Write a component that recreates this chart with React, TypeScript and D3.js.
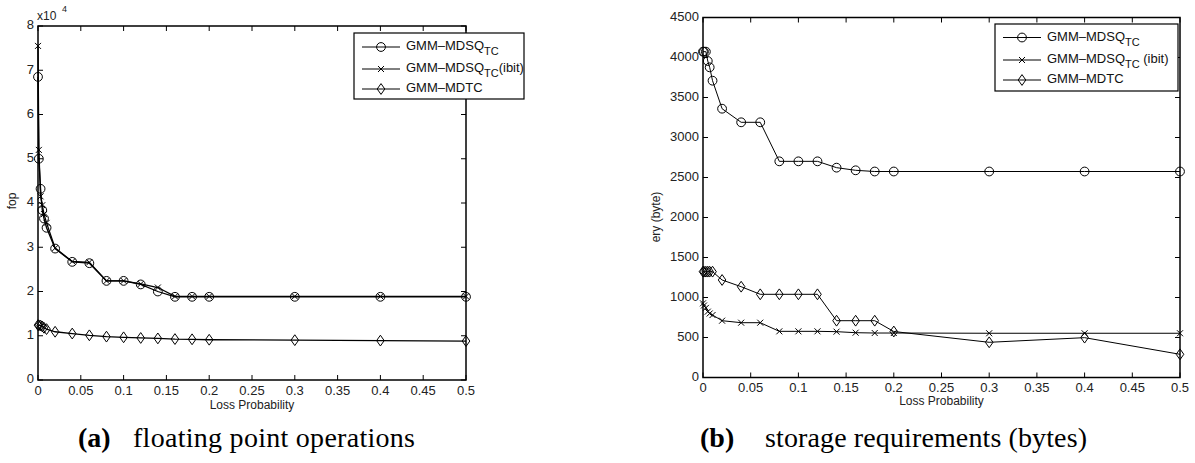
import React from "react";
import * as d3 from "d3";

// Loss probabilities shared by both experiments
const lossProb = [0, 0.001, 0.003, 0.005, 0.007, 0.01, 0.02, 0.04, 0.06, 0.08, 0.1, 0.12, 0.14, 0.16, 0.18, 0.2, 0.3, 0.4, 0.5];

// (a) floating point operations
const fopMdsq = [68500, 50000, 43200, 38400, 36500, 34400, 29700, 26700, 26400, 22400, 22400, 21600, 20000, 18800, 18800, 18800, 18800, 18800, 18800];
const fopMdsqIbit = [75500, 52000, 41500, 39500, 37500, 35500, 29800, 26800, 26600, 22400, 22400, 21700, 20900, 18900, 18900, 18900, 18900, 18900, 18900];
const fopMdtc = [12400, 12350, 12300, 12100, 11800, 11500, 10900, 10500, 10100, 9800, 9650, 9500, 9400, 9250, 9200, 9100, 9000, 8900, 8800];

// (b) storage requirements (bytes)
const memMdsq = [4073, 4073, 4073, 3956, 3877, 3710, 3360, 3190, 3190, 2702, 2702, 2702, 2623, 2590, 2575, 2575, 2575, 2575, 2575];
const memMdsqIbit = [927, 900, 870, 823, 800, 781, 710, 685, 685, 577, 577, 577, 573, 560, 556, 556, 553, 553, 553];
const memMdtc = [1323, 1323, 1323, 1323, 1323, 1323, 1219, 1135, 1040, 1040, 1040, 1040, 710, 710, 710, 575, 440, 498, 290];

const xTicks = [0, 0.05, 0.1, 0.15, 0.2, 0.25, 0.3, 0.35, 0.4, 0.45, 0.5];
const fopTicks = [0, 10000, 20000, 30000, 40000, 50000, 60000, 70000, 80000];
const memTicks = [0, 500, 1000, 1500, 2000, 2500, 3000, 3500, 4000, 4500];

const SANS = "'Liberation Sans', Arial, Helvetica, sans-serif";
const SERIF = "'Liberation Serif', 'DejaVu Serif', serif";

type MarkerKind = "circle" | "cross" | "diamond";

function Marker({ kind, x, y }: { kind: MarkerKind; x: number; y: number }) {
  if (kind === "circle") {
    return <circle cx={x} cy={y} r={4.4} fill="none" stroke="#000" strokeWidth={1} />;
  }
  if (kind === "cross") {
    const s = 3;
    return (
      <path d={`M${x - s},${y - s}L${x + s},${y + s}M${x - s},${y + s}L${x + s},${y - s}`} stroke="#000" strokeWidth={1} />
    );
  }
  const w = 3.8, h = 5.4;
  return (
    <path d={`M${x},${y - h}L${x + w},${y}L${x},${y + h}L${x - w},${y}Z`} fill="none" stroke="#000" strokeWidth={1} />
  );
}

type Series = { values: number[]; kind: MarkerKind };

type LegendItem = { kind: MarkerKind; name: string; sub?: string; suffix?: string };

function Panel(props: {
  left: number; right: number; top: number; bottom: number;
  yMax: number; yTicks: number[]; yFmt: (v: number) => string;
  series: Series[];
  lineWidth: number;
  legend: { x: number; y: number; w: number; h: number; rows: number[]; items: LegendItem[] };
  yLabel: { x: number; y: number; text: string };
  xLabelY: number;
  xTickY: number;
}) {
  const { left, right, top, bottom } = props;
  const x = d3.scaleLinear().domain([0, 0.5]).range([left, right]);
  const y = d3.scaleLinear().domain([0, props.yMax]).range([bottom, top]);
  const tl = 5;
  const lg = props.legend;
  return (
    <g>
      {props.series.map((s, i) => {
        const pts: [number, number][] = lossProb.map((p, j) => [x(p), y(s.values[j])]);
        const line = d3.line()(pts) ?? "";
        return (
          <g key={i}>
            <path d={line} fill="none" stroke="#000" strokeWidth={props.lineWidth} />
            {pts.map(([px, py], j) => (
              <Marker key={j} kind={s.kind} x={px} y={py} />
            ))}
          </g>
        );
      })}
      {/* box */}
      <rect x={left} y={top} width={right - left} height={bottom - top} fill="none" stroke="#000" strokeWidth={1.5} />
      {xTicks.map((t, i) => (
        <g key={i}>
          <line x1={x(t)} x2={x(t)} y1={bottom} y2={bottom - tl} stroke="#000" strokeWidth={1} />
          <line x1={x(t)} x2={x(t)} y1={top} y2={top + tl} stroke="#000" strokeWidth={1} />
          <text x={x(t)} y={props.xTickY} textAnchor="middle" dominantBaseline="middle" fontFamily={SANS} fontSize={13} fill="#222">
            {String(t)}
          </text>
        </g>
      ))}
      {props.yTicks.map((t, i) => (
        <g key={i}>
          <line x1={left} x2={left + tl} y1={y(t)} y2={y(t)} stroke="#000" strokeWidth={1} />
          <line x1={right} x2={right - tl} y1={y(t)} y2={y(t)} stroke="#000" strokeWidth={1} />
          <text x={left - 4} y={y(t)} textAnchor="end" dominantBaseline="middle" fontFamily={SANS} fontSize={13} fill="#222">
            {props.yFmt(t)}
          </text>
        </g>
      ))}
      <text x={(left + right) / 2} y={props.xLabelY} textAnchor="middle" dominantBaseline="middle" fontFamily={SANS} fontSize={12} fill="#222">
        Loss Probability
      </text>
      <text
        transform={`translate(${props.yLabel.x},${props.yLabel.y}) rotate(-90)`}
        textAnchor="middle" dominantBaseline="middle" fontFamily={SANS} fontSize={12} fill="#222"
      >
        {props.yLabel.text}
      </text>
      {/* legend */}
      <rect x={lg.x} y={lg.y} width={lg.w} height={lg.h} fill="#fff" stroke="#000" strokeWidth={1.2} />
      {lg.items.map((it, i) => {
        const ry = lg.rows[i];
        return (
          <g key={i}>
            <line x1={lg.x + 8} x2={lg.x + 46} y1={ry} y2={ry} stroke="#000" strokeWidth={1} />
            <Marker kind={it.kind} x={lg.x + 27} y={ry} />
            <text x={lg.x + 52} y={ry} dominantBaseline="middle" fontFamily={SANS} fontSize={13} fill="#111">
              {it.name}
              {it.sub ? <tspan dy={5} fontSize={11}>{it.sub}</tspan> : null}
              {it.suffix ? <tspan dy={-5}>{it.suffix}</tspan> : null}
            </text>
          </g>
        );
      })}
    </g>
  );
}

export default function App() {
  return (
    <svg width={1195} height={463} style={{ position: "absolute", left: 0, top: 0, background: "#fff" }}>
      <rect width={1195} height={463} fill="#fff" />
      <Panel
        left={38} right={466} top={26} bottom={380}
        yMax={80000} yTicks={fopTicks} yFmt={(v) => String(v / 10000)}
        series={[
          { values: fopMdsq, kind: "circle" },
          { values: fopMdsqIbit, kind: "cross" },
          { values: fopMdtc, kind: "diamond" },
        ]}
        lineWidth={1.3}
        legend={{
          x: 354, y: 33, w: 170, h: 66, rows: [47, 69, 89],
          items: [
            { kind: "circle", name: "GMM–MDSQ", sub: "TC" },
            { kind: "cross", name: "GMM–MDSQ", sub: "TC", suffix: "(ibit)" },
            { kind: "diamond", name: "GMM–MDTC" },
          ],
        }}
        yLabel={{ x: 13, y: 201, text: "fop" }}
        xLabelY={406}
        xTickY={392}
      />
      <text x={37} y={20} fontFamily={SANS} fontSize={12} fill="#222">x10</text>
      <text x={62} y={12} fontFamily={SANS} fontSize={9} fill="#222">4</text>
      <Panel
        left={703} right={1180} top={17.5} bottom={377.5}
        yMax={4500} yTicks={memTicks} yFmt={(v) => String(v)}
        series={[
          { values: memMdsq, kind: "circle" },
          { values: memMdsqIbit, kind: "cross" },
          { values: memMdtc, kind: "diamond" },
        ]}
        lineWidth={1}
        legend={{
          x: 995, y: 24, w: 183, h: 67, rows: [37.5, 60, 80],
          items: [
            { kind: "circle", name: "GMM–MDSQ", sub: "TC" },
            { kind: "cross", name: "GMM–MDSQ", sub: "TC", suffix: " (ibit)" },
            { kind: "diamond", name: "GMM–MDTC" },
          ],
        }}
        yLabel={{ x: 657, y: 217, text: "ery (byte)" }}
        xLabelY={402}
        xTickY={389}
      />
      <text x={78} y={447} fontFamily={SERIF} fontSize={28} fontWeight="bold" fill="#000">(a)</text>
      <text x={133} y={447} fontFamily={SERIF} fontSize={28} fill="#000" textLength={282} lengthAdjust="spacing">
        floating point operations
      </text>
      <text x={700} y={447} fontFamily={SERIF} fontSize={28} fontWeight="bold" fill="#000">(b)</text>
      <text x={765} y={447} fontFamily={SERIF} fontSize={28} fill="#000" textLength={322} lengthAdjust="spacing">
        storage requirements (bytes)
      </text>
    </svg>
  );
}
